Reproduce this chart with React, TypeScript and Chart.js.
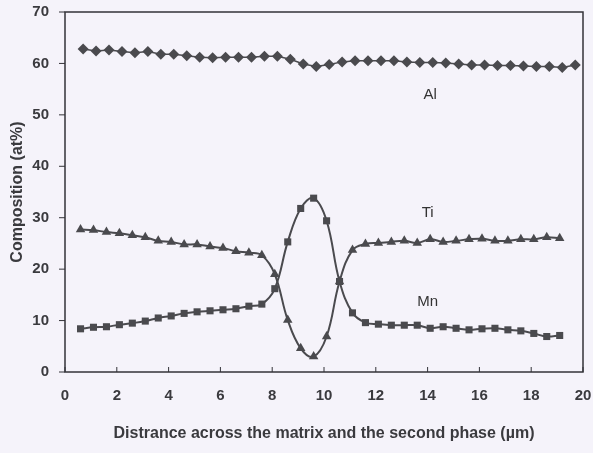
import React, { useEffect, useRef } from "react";
import { Chart, registerables } from "chart.js";

Chart.register(...registerables);

// x positions (µm)
const alX = [0.7, 1.2, 1.7, 2.2, 2.7, 3.2, 3.7, 4.2, 4.7, 5.2, 5.7, 6.2, 6.7, 7.2, 7.7, 8.2, 8.7, 9.2, 9.7, 10.2, 10.7, 11.2, 11.7, 12.2, 12.7, 13.2, 13.7, 14.2, 14.7, 15.2, 15.7, 16.2, 16.7, 17.2, 17.7, 18.2, 18.7, 19.2, 19.7];
const alValues = [62.8, 62.4, 62.6, 62.3, 62.1, 62.3, 61.8, 61.8, 61.5, 61.2, 61.1, 61.2, 61.2, 61.2, 61.4, 61.4, 60.8, 59.9, 59.4, 59.8, 60.3, 60.5, 60.5, 60.5, 60.5, 60.3, 60.2, 60.2, 60.1, 59.9, 59.7, 59.7, 59.6, 59.6, 59.5, 59.4, 59.4, 59.2, 59.7];

const tiMnX = [0.6, 1.1, 1.6, 2.1, 2.6, 3.1, 3.6, 4.1, 4.6, 5.1, 5.6, 6.1, 6.6, 7.1, 7.6, 8.1, 8.6, 9.1, 9.6, 10.1, 10.6, 11.1, 11.6, 12.1, 12.6, 13.1, 13.6, 14.1, 14.6, 15.1, 15.6, 16.1, 16.6, 17.1, 17.6, 18.1, 18.6, 19.1];
const tiValues = [27.7, 27.6, 27.2, 27.0, 26.6, 26.2, 25.5, 25.3, 24.8, 24.8, 24.4, 24.1, 23.5, 23.2, 22.7, 19.0, 10.1, 4.6, 3.0, 6.9, 17.6, 23.7, 24.9, 25.1, 25.3, 25.5, 25.1, 25.8, 25.3, 25.5, 25.8, 25.9, 25.5, 25.5, 25.8, 25.8, 26.2, 26.0];
const mnValues = [8.4, 8.7, 8.8, 9.2, 9.5, 9.9, 10.5, 10.9, 11.4, 11.7, 11.9, 12.1, 12.3, 12.8, 13.2, 16.2, 25.3, 31.8, 33.8, 29.4, 17.6, 11.5, 9.6, 9.3, 9.1, 9.1, 9.1, 8.5, 8.8, 8.5, 8.2, 8.4, 8.5, 8.2, 8.0, 7.5, 6.9, 7.1];

const seriesLabels = ["Al", "Ti", "Mn"];
const labelPositions = [
  { x: 14.1, y: 53.9 },
  { x: 14.0, y: 30.9 },
  { x: 14.0, y: 13.6 },
];

const xTicks = [0, 2, 4, 6, 8, 10, 12, 14, 16, 18, 20];
const yTicks = [0, 10, 20, 30, 40, 50, 60, 70];

const INK = "#4a4a4e";
const AXIS = "#333338";
const TEXT = "#3a3a3e";
const FONT = "'Liberation Sans', Arial, sans-serif";

const framePlugin = {
  id: "frame",
  beforeDraw(chart: any) {
    const { ctx, width, height } = chart;
    ctx.save();
    ctx.fillStyle = "#f5f3fa";
    ctx.fillRect(0, 0, width, height);
    ctx.restore();
  },
  afterDraw(chart: any) {
    const { ctx, chartArea } = chart;
    const xs = chart.scales.x;
    const ys = chart.scales.y;
    ctx.save();
    ctx.strokeStyle = AXIS;
    ctx.lineWidth = 1.5;
    ctx.strokeRect(chartArea.left, chartArea.top, chartArea.right - chartArea.left, chartArea.bottom - chartArea.top);
    ctx.lineWidth = 1;
    ctx.beginPath();
    xTicks.forEach((t) => {
      const px = xs.getPixelForValue(t);
      ctx.moveTo(px, chartArea.bottom);
      ctx.lineTo(px, chartArea.bottom - 5);
    });
    yTicks.forEach((t) => {
      const py = ys.getPixelForValue(t);
      ctx.moveTo(chartArea.left, py);
      ctx.lineTo(chartArea.left - 6, py);
    });
    ctx.stroke();
    ctx.fillStyle = "#333";
    ctx.font = `15px ${FONT}`;
    ctx.textAlign = "center";
    ctx.textBaseline = "middle";
    seriesLabels.forEach((s, i) => {
      ctx.fillText(s, xs.getPixelForValue(labelPositions[i].x), ys.getPixelForValue(labelPositions[i].y));
    });
    ctx.restore();
  },
};

export default function App() {
  const ref = useRef<HTMLCanvasElement | null>(null);
  useEffect(() => {
    if (!ref.current) return;
    const chart = new Chart(ref.current, {
      type: "line",
      data: {
        datasets: [
          {
            label: "Al",
            data: alX.map((x, i) => ({ x, y: alValues[i] })),
            borderColor: INK,
            backgroundColor: INK,
            borderWidth: 1.5,
            pointStyle: "rectRot",
            pointRadius: 5.5,
            pointBorderWidth: 0,
            tension: 0,
          },
          {
            label: "Ti",
            data: tiMnX.map((x, i) => ({ x, y: tiValues[i] })),
            borderColor: INK,
            backgroundColor: INK,
            borderWidth: 2,
            pointStyle: "triangle",
            pointRadius: 5.5,
            pointBorderWidth: 0,
            tension: 0.4,
          },
          {
            label: "Mn",
            data: tiMnX.map((x, i) => ({ x, y: mnValues[i] })),
            borderColor: INK,
            backgroundColor: INK,
            borderWidth: 2,
            pointStyle: "rect",
            pointRadius: 5,
            pointBorderWidth: 0,
            tension: 0.4,
          },
        ],
      },
      options: {
        animation: false,
        responsive: false,
        maintainAspectRatio: false,
        layout: { padding: { top: 12, right: 10, left: 0, bottom: 0 } },
        plugins: { legend: { display: false }, tooltip: { enabled: false } },
        scales: {
          x: {
            type: "linear",
            min: 0,
            max: 20,
            afterBuildTicks: (scale: any) => {
              scale.ticks = xTicks.map((v) => ({ value: v }));
            },
            afterFit: (scale: any) => {
              scale.height = 81;
              scale.paddingLeft = 0;
              scale.paddingRight = 0;
            },
            grid: { display: false },
            border: { display: false },
            ticks: {
              color: TEXT,
              font: { family: FONT, size: 15, weight: "bold" },
              padding: 7,
              maxRotation: 0,
              autoSkip: false,
            },
            title: {
              display: true,
              text: "Distrance across the matrix and the second phase (µm)",
              color: TEXT,
              font: { family: FONT, size: 16, weight: "bold" },
              padding: { top: 8, bottom: 10 },
            },
          },
          y: {
            type: "linear",
            min: 0,
            max: 70,
            afterBuildTicks: (scale: any) => {
              scale.ticks = yTicks.map((v) => ({ value: v }));
            },
            afterFit: (scale: any) => {
              scale.width = 65;
              scale.paddingTop = 0;
              scale.paddingBottom = 0;
            },
            grid: { display: false },
            border: { display: false },
            ticks: {
              color: TEXT,
              font: { family: FONT, size: 15, weight: "bold" },
              padding: 8,
            },
            title: {
              display: true,
              text: "Composition (at%)",
              color: TEXT,
              font: { family: FONT, size: 16, weight: "bold" },
              padding: { top: 8, bottom: 0 },
            },
          },
        },
      },
      plugins: [framePlugin],
    });
    return () => chart.destroy();
  }, []);
  return (
    <div style={{ position: "fixed", left: 0, top: 0, width: 593, height: 453, background: "#f5f3fa" }}>
      <canvas ref={ref} width={593} height={453} style={{ display: "block" }} />
    </div>
  );
}
